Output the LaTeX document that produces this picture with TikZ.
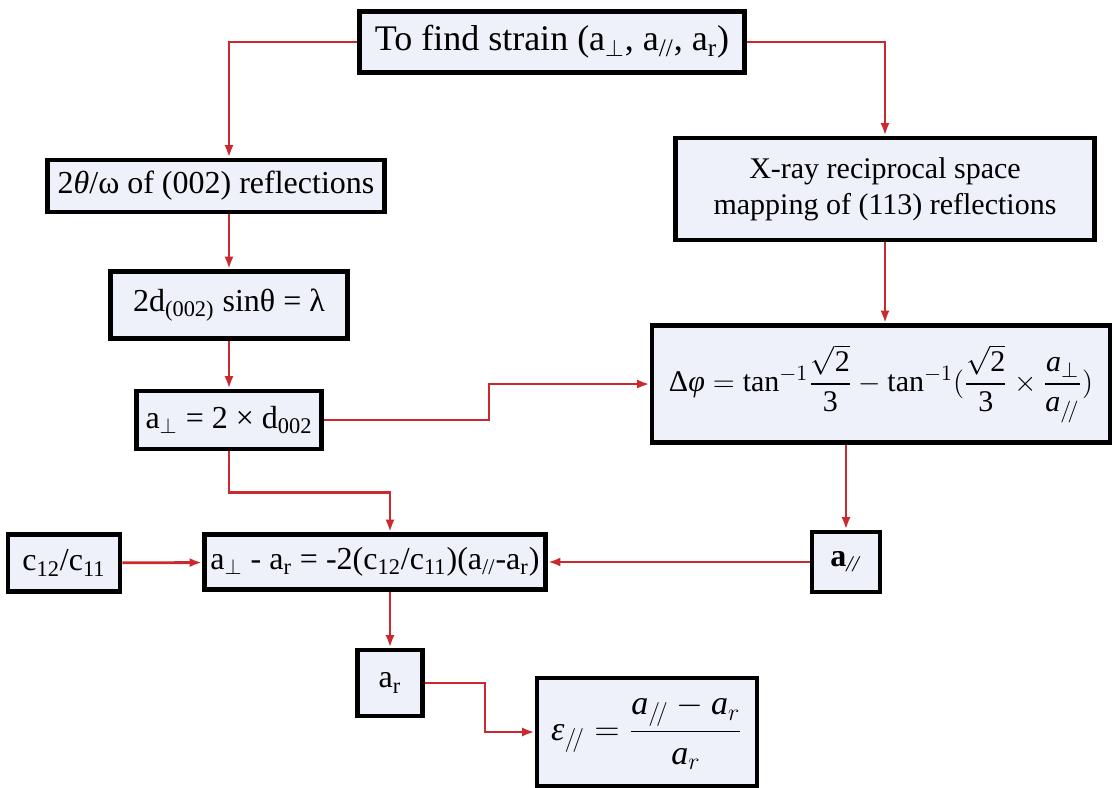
\documentclass[tikz,border=0pt]{standalone}
\usepackage{amsmath}
\usepackage{fontspec}
\setmainfont{Liberation Serif}
\usetikzlibrary{arrows.meta,positioning}
\definecolor{boxfill}{RGB}{238,240,250}
\definecolor{linkred}{RGB}{204,40,48}
\tikzset{
  box/.style={draw=black, fill=boxfill, line width=2.4pt, align=center, inner sep=3pt, font=\fontsize{16}{19}\selectfont},
  bigbox/.style={box, font=\fontsize{18}{21}\selectfont},
  smallbox/.style={box, font=\fontsize{15}{18}\selectfont},
  arrow/.style={-{Latex[length=2.2mm,width=1.6mm]}, draw=linkred, line width=1.4pt}
}
\newcommand{\lsub}[1]{\textsubscript{#1}}

\begin{document}
\begin{tikzpicture}[x=0.5pt,y=-0.5pt]
\useasboundingbox (0,0) rectangle (1116,788);
\node[bigbox, minimum width=192.5pt, minimum height=30.5pt] (goal) at (552,42) {To find strain (a\lsub{$\perp$}, a\lsub{//}, a\lsub{r})};
\node[box, minimum width=168.5pt, minimum height=26pt] (scan) at (216,186) {2\textit{θ}/ω of (002) reflections};
\node[smallbox, minimum width=209.5pt, minimum height=51pt] (rsm) at (885,189) {X-ray reciprocal space\\mapping of (113) reflections};
\node[box, minimum width=118.5pt, minimum height=33.5pt] (bragg) at (229,305) {2d\lsub{(002)} sinθ = λ};
\node[smallbox, minimum width=229pt, minimum height=58.5pt] (tilt) at (881,384)
  {$\text{Δ}\textit{φ} = \text{tan}^{-1}\dfrac{\sqrt{\text{2}}}{\text{3}} - \text{tan}^{-1}(\dfrac{\sqrt{\text{2}}}{\text{3}}\times\dfrac{\textit{a}_{\perp}}{\textit{a}_{/\!/}})$};
\node[box, minimum width=92.5pt, minimum height=29pt] (aperp) at (229,420) {a\lsub{$\perp$} = 2 × d\lsub{002}};
\node[box, minimum width=56pt, minimum height=28.5pt] (elast) at (64,563) {c\lsub{12}/c\lsub{11}};
\node[box, minimum width=170pt, minimum height=27.5pt] (poisson) at (375,562) {a\lsub{$\perp$} - a\lsub{r} = -2(c\lsub{12}/c\lsub{11})(a\lsub{//}-a\lsub{r})};
\node[box, minimum width=34pt, minimum height=30pt] (apar) at (846,562) {\textbf{a}\lsub{\textit{//}}};
\node[box, minimum width=32.5pt, minimum height=33pt] (arel) at (390,683) {a\lsub{r}};
\node[box, font=\fontsize{17}{20}\selectfont, minimum width=110pt, minimum height=54pt] (strain) at (647,732)
  {$\textit{ε}_{/\!/} = \dfrac{\textit{a}_{/\!/}-\textit{a}_{r}}{\textit{a}_{r}}$};
% connectors
\draw[arrow] (goal.west) -| (scan.north -| bragg.north);
\draw[arrow] (goal.east) -| (rsm.north);
\draw[arrow] (scan.south -| bragg.north) -- (bragg.north);
\draw[arrow] (bragg.south) -- (aperp.north);
\draw[arrow] (rsm.south) -- (tilt.north -| rsm.south);
\draw[arrow] (aperp.east) -- ++(165,0) |- (tilt.west);
\draw[arrow] (aperp.south) -- ++(0,41) -| (poisson.north -| arel.north);
\draw[arrow] (elast) -- (poisson);
\draw[arrow] (apar) -- (poisson);
\draw[arrow] (tilt.south -| apar.north) -- (apar.north);
\draw[arrow] (poisson.south -| arel.north) -- (arel.north);
\draw[arrow] (arel.east) -- ++(60,0) |- (strain.west);
\end{tikzpicture}
\end{document}
